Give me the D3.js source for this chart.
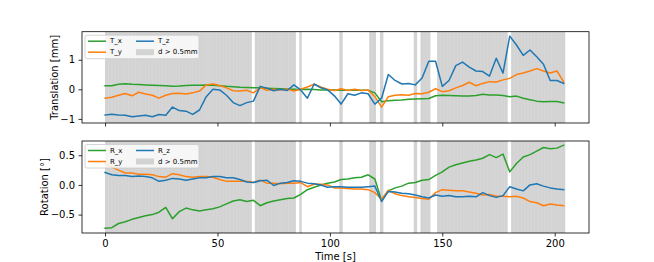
<!DOCTYPE html>
<html><head><meta charset="utf-8">
<script src="https://cdn.jsdelivr.net/npm/d3@7"></script>
<style>
html,body{margin:0;padding:0;background:#fff;}
svg{display:block;font-family:"DejaVu Sans",sans-serif;}
</style></head>
<body><svg id="chart" width="654" height="262"></svg>
<script>
// ---- data ----
const timeStep = 3; // seconds between samples
const times = d3.range(0, 205, timeStep);
const T_x = [0.12,0.12,0.17,0.19,0.17,0.16,0.15,0.14,0.13,0.12,
  0.10,0.11,0.13,0.14,0.14,0.15,0.14,0.12,0.10,0.09,
  0.07,0.06,0.05,0.05,0.04,0.03,0.02,0.01,0.00,-0.01,
  0.00,-0.01,-0.02,-0.02,-0.02,-0.03,-0.03,-0.02,-0.03,-0.03,
  -0.12,-0.42,-0.39,-0.37,-0.36,-0.34,-0.33,-0.32,-0.31,-0.22,
  -0.20,-0.21,-0.22,-0.23,-0.23,-0.21,-0.17,-0.19,-0.19,-0.21,
  -0.25,-0.23,-0.30,-0.35,-0.40,-0.42,-0.41,-0.41,-0.46];
const T_y = [-0.30,-0.27,-0.20,-0.14,-0.22,-0.10,-0.16,-0.20,-0.30,-0.20,
  -0.14,-0.13,-0.16,-0.12,-0.06,0.15,0.18,0.13,0.05,-0.05,
  -0.06,-0.03,-0.12,0.06,-0.03,0.00,-0.02,0.01,-0.06,0.00,
  0.08,0.17,0.08,0.00,-0.04,0.02,-0.04,0.00,-0.04,-0.02,
  -0.25,-0.60,-0.25,-0.20,-0.18,-0.20,-0.14,-0.15,-0.10,0.02,
  -0.08,-0.05,0.05,0.13,0.24,0.12,0.20,0.26,0.25,0.32,
  0.37,0.50,0.55,0.62,0.70,0.62,0.55,0.62,0.25];
const T_z = [-0.87,-0.84,-0.87,-0.88,-0.93,-0.90,-0.88,-0.93,-0.85,-0.88,
  -0.60,-0.72,-0.74,-0.85,-0.70,-0.25,0.00,-0.02,-0.20,-0.45,
  -0.55,-0.45,-0.40,0.10,0.04,-0.05,0.00,-0.04,0.15,-0.02,
  -0.30,0.18,0.05,-0.02,-0.22,-0.50,-0.15,-0.20,-0.12,-0.15,
  -0.50,-0.30,0.50,0.30,0.18,0.20,0.15,0.38,0.95,0.95,
  0.10,0.30,0.80,0.92,0.75,0.62,0.60,0.45,1.05,0.55,
  1.80,1.50,1.15,1.33,1.10,0.85,0.30,0.30,0.20];
const R_x = [-0.73,-0.72,-0.65,-0.62,-0.58,-0.55,-0.52,-0.50,-0.46,-0.38,
  -0.57,-0.45,-0.39,-0.42,-0.44,-0.42,-0.40,-0.37,-0.32,-0.27,
  -0.25,-0.28,-0.26,-0.35,-0.30,-0.27,-0.25,-0.23,-0.22,-0.16,
  -0.08,-0.04,0.00,0.03,0.05,0.09,0.10,0.12,0.13,0.17,
  0.10,-0.26,-0.10,-0.05,-0.02,0.03,0.04,0.08,0.09,0.16,
  0.22,0.30,0.34,0.37,0.40,0.42,0.45,0.51,0.46,0.52,
  0.22,0.36,0.47,0.51,0.57,0.63,0.61,0.62,0.67];
const R_y = [0.36,0.30,0.25,0.20,0.20,0.18,0.18,0.17,0.14,0.13,
  0.19,0.17,0.14,0.13,0.14,0.14,0.13,0.09,0.06,0.06,
  0.06,0.06,0.04,0.08,0.03,0.03,0.02,0.03,0.03,0.04,
  -0.03,0.01,0.01,0.00,-0.05,-0.05,-0.06,-0.07,-0.07,-0.08,
  -0.13,-0.24,-0.09,-0.15,-0.18,-0.20,-0.21,-0.23,-0.24,-0.13,
  -0.08,-0.09,-0.10,-0.10,-0.12,-0.14,-0.17,-0.16,-0.19,-0.19,
  -0.20,-0.19,-0.22,-0.28,-0.30,-0.35,-0.32,-0.34,-0.35];
const R_z = [0.21,0.17,0.16,0.16,0.14,0.15,0.14,0.12,0.06,0.08,
  0.11,0.10,0.08,0.10,0.12,0.12,0.14,0.14,0.12,0.12,
  0.09,0.05,0.04,0.07,0.08,-0.01,0.03,0.04,0.07,0.06,
  0.03,0.02,0.00,-0.04,-0.03,-0.03,-0.04,-0.04,-0.04,-0.03,
  -0.02,-0.28,-0.11,-0.12,-0.14,-0.15,-0.17,-0.20,-0.22,-0.17,
  -0.19,-0.18,-0.20,-0.20,-0.19,-0.20,-0.13,-0.18,-0.21,-0.18,
  -0.03,-0.07,-0.10,0.00,0.02,-0.02,-0.05,-0.07,-0.08];
// intervals (s) where framewise displacement d > 0.5mm
const outlierSpans = [[0,65.3],[66.6,84.9],[86.4,87.5],[104.2,105.7],[117.5,120.5],
  [122.3,123.8],[137.3,138.8],[140.3,144.7],[147.7,179.1],[180.6,204.7]];
const volumeTR = 1.5;
const xTicks = [0,50,100,150,200];
const topTicks = [-1,0,1];
const botTicks = [-0.5,0.0,0.5];

// ---- layout ----
const svg = d3.select("#chart");
const colors = {x:"#2ca02c", y:"#ff7f0e", z:"#1f77b4"};
const spanColor = "#d3d3d3";
const L = 82, R = 589;
const x = d3.scaleLinear().domain([-10.25, 215.25]).range([L, R]);
const minus = s => s.replace("-", "\u2212");

function panel(top, bottom, yDomain, yTicks, fmt, series, names, ylabel, labelX) {
  const y = d3.scaleLinear().domain(yDomain).range([bottom, top]);
  const g = svg.append("g");
  g.append("defs").append("clipPath").attr("id","clip"+top)
    .append("rect").attr("x",L).attr("y",top).attr("width",R-L).attr("height",bottom-top);
  const plot = g.append("g").attr("clip-path","url(#clip"+top+")");
  // spans, with faint seams at volume boundaries
  outlierSpans.forEach(([a,b]) => {
    plot.append("rect").attr("x", x(a)).attr("width", x(b)-x(a))
      .attr("y", top).attr("height", bottom-top).attr("fill", spanColor);
    const seams = [];
    for (let t=a+volumeTR; t<b-0.3; t+=volumeTR) seams.push(t);
    plot.selectAll(null).data(seams).enter().append("line")
      .attr("x1", d=>x(d)).attr("x2", d=>x(d)).attr("y1", top).attr("y2", bottom)
      .attr("stroke","#fff").attr("stroke-opacity",0.18).attr("stroke-width",0.6);
  });
  const line = d3.line().x((d,i)=>x(times[i])).y(d=>y(d));
  series.forEach((s,k)=>{
    plot.append("path").datum(s).attr("d", line).attr("fill","none")
      .attr("stroke", [colors.x,colors.y,colors.z][k]).attr("stroke-width",1.5)
      .attr("stroke-linejoin","round").attr("stroke-linecap","square");
  });
  // axes
  const ya = g.append("g").attr("transform",`translate(${L},0)`)
    .call(d3.axisLeft(y).tickValues(yTicks).tickSize(3.5).tickPadding(3.5).tickFormat(d=>minus(fmt(d))));
  ya.select(".domain").remove();
  ya.selectAll("text").attr("font-size",10).attr("fill","#000").attr("font-family","DejaVu Sans");
  ya.selectAll("line").attr("stroke","#000").attr("stroke-width",0.8);
  const xa = g.append("g").attr("transform",`translate(0,${bottom})`)
    .call(d3.axisBottom(x).tickValues(xTicks).tickSize(3.5).tickPadding(3.5).tickFormat(d=>d));
  xa.select(".domain").remove();
  xa.selectAll("line").attr("stroke","#000").attr("stroke-width",0.8);
  xa.selectAll("text").attr("font-size",10).attr("fill","#000").attr("font-family","DejaVu Sans");
  if (top < 100) xa.selectAll("text").remove();
  g.append("rect").attr("x",L).attr("y",top).attr("width",R-L).attr("height",bottom-top)
    .attr("fill","none").attr("stroke","#000").attr("stroke-width",0.8);
  g.append("text").attr("transform",`translate(${labelX},${(top+bottom)/2}) rotate(-90)`)
    .attr("text-anchor","middle").attr("dominant-baseline","central")
    .attr("font-size",10).text(ylabel);
  // legend
  const lg = g.append("g").attr("transform",`translate(${L+3},${top+3.5})`);
  lg.append("rect").attr("width",114).attr("height",23.5).attr("rx",2)
    .attr("fill","#fff").attr("fill-opacity",0.8).attr("stroke","#ccc").attr("stroke-width",0.8);
  const items = [
    {name:names[0], c:colors.x, col:0, row:0},
    {name:names[1], c:colors.y, col:0, row:1},
    {name:names[2], c:colors.z, col:1, row:0},
    {name:"d > 0.5mm", c:null, col:1, row:1}];
  items.forEach(it=>{
    const ox = 3 + it.col*48, oy = 6 + it.row*11;
    if (it.c) lg.append("line").attr("x1",ox).attr("x2",ox+18).attr("y1",oy).attr("y2",oy)
      .attr("stroke",it.c).attr("stroke-width",1.5);
    else lg.append("rect").attr("x",ox).attr("y",oy-3).attr("width",18).attr("height",6).attr("fill",spanColor);
    lg.append("text").attr("x",ox+22).attr("y",oy).attr("dominant-baseline","central")
      .attr("font-size",7).text(it.name);
  });
  return y;
}

panel(31.7, 123, [-1.14, 1.95], topTicks, d3.format("d"), [T_x,T_y,T_z], ["T_x","T_y","T_z"], "Translation [mm]", 54);
panel(141, 233, [-0.81, 0.74], botTicks, d3.format(".1f"), [R_x,R_y,R_z], ["R_x","R_y","R_z"], "Rotation [°]", 44);
svg.append("text").attr("x",(L+R)/2).attr("y",256).attr("text-anchor","middle")
  .attr("dominant-baseline","central").attr("font-size",10).text("Time [s]");
</script></body></html>
